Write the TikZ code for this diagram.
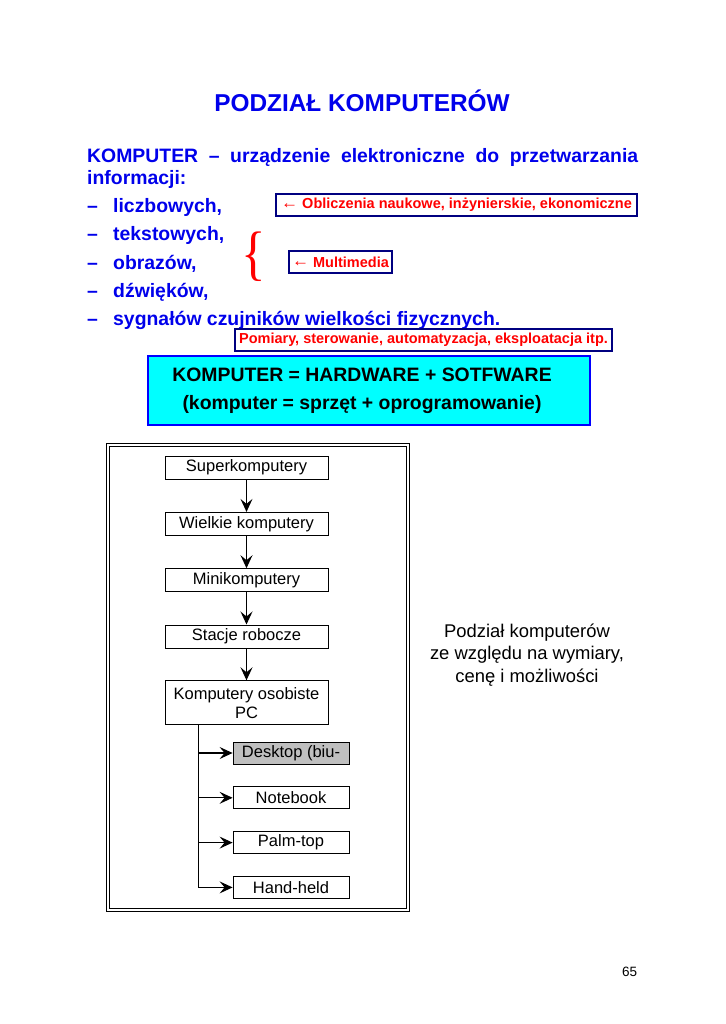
\documentclass[tikz,border=0pt]{standalone}
\usepackage{fontspec}
\setmainfont{Liberation Sans}
\newfontfamily\bracefont{Liberation Serif}
\usepackage{xcolor}
\definecolor{primary}{RGB}{0, 0, 235}
\definecolor{accent}{RGB}{255, 0, 0}
\definecolor{boxline}{RGB}{0, 0, 128}
\definecolor{formula}{RGB}{0, 255, 255}
\usetikzlibrary{arrows.meta,positioning}

\newcommand{\larrow}{{\fontsize{17}{17}\selectfont\raisebox{0.5pt}{←}}}

\begin{document}
\begin{tikzpicture}[x=1pt, y=-1pt,
    item/.style={anchor=base west, inner sep=0pt, primary, font=\bfseries\fontsize{19.4}{23}\selectfont},
    note/.style={draw=boxline, line width=1.3pt, inner sep=0pt, minimum height=22pt, text=accent, font=\bfseries\fontsize{14.5}{17}\selectfont},
    level/.style={draw, thick, inner sep=0pt, minimum width=163pt, minimum height=23pt, font=\fontsize{16.5}{19}\selectfont},
    kind/.style={draw, thick, inner sep=0pt, minimum width=116pt, minimum height=22pt, font=\fontsize{16.5}{19}\selectfont},
    flow/.style={-{Stealth[length=13pt, width=12pt, inset=5pt]}, line width=1.1pt}]
    \useasboundingbox (0, 0) rectangle (725, 1024);

    % Title
    \node[primary, font=\bfseries\fontsize{24.4}{29}\selectfont] (title) at (362, 101) {PODZIAŁ KOMPUTERÓW};

    % Definition
    \node[anchor=north west, inner sep=0pt, text width=551pt, align=justify, primary, font=\bfseries\fontsize{19.4}{22}\selectfont] (def) at (87, 148)
        {KOMPUTER – urządzenie elektroniczne do przetwarzania\linebreak informacji:};

    % Kinds of data
    \foreach \txt [count=\i] in {{liczbowych,}, {tekstowych,}, {obrazów,}, {dźwięków,}, {sygnałów czujników wielkości fizycznych.}} {
        \node[item] (dash\i) at (87, 184.2 + 28.3*\i) {–};
        \node[item] (data\i) at (113, 184.2 + 28.3*\i) {\txt};
    }

    % Applications
    \node[note, minimum width=361pt] (science) at (456.5, 205) {\larrow\ Obliczenia naukowe, inżynierskie, ekonomiczne};
    \node[accent, inner sep=0pt, xscale=0.85, font=\bracefont\fontsize{60}{60}\selectfont] (brace) at (254, 257) {\{};
    \node[note, minimum width=103pt] (media) at (340.5, 262) {\larrow\ Multimedia};
    \node[note, minimum width=377pt] (control) at (423.5, 340) {Pomiary, sterowanie, automatyzacja, eksploatacja itp.};

    % Formula
    \node[draw=blue, line width=1.5pt, fill=formula, minimum width=442pt, minimum height=69pt, inner sep=0pt, align=center, font=\bfseries\fontsize{19.4}{28}\selectfont] (formula) at (369, 390.5)
        {\raisebox{-3pt}{KOMPUTER = HARDWARE + SOTFWARE}\hspace*{14pt}\\\raisebox{-3pt}{(komputer = sprzęt + oprogramowanie)}\hspace*{14pt}};

    % Frame of the chart
    \draw[line width=1.1pt, double=white, double distance=1.8pt] (108, 445) rectangle (408, 910);

    % Size levels
    \node[level] (super) at (246.5, 467.5) {Superkomputery};
    \node[level, below=32.5pt of super] (mainframe) {Wielkie komputery};
    \node[level, below=32.5pt of mainframe] (mini) {Minikomputery};
    \node[level, below=32.5pt of mini] (station) {Stacje robocze};
    \node[level, below=32pt of station, minimum height=44pt, align=center, font=\fontsize{16.5}{19}\selectfont] (pc) {Komputery osobiste\\PC};
    \draw[flow] (super) -- (mainframe);
    \draw[flow] (mainframe) -- (mini);
    \draw[flow] (mini) -- (station);
    \draw[flow] (station) -- (pc);

    % Personal computers
    \node[kind, fill=lightgray] (desktop) at (291, 753) {Desktop (biu-};
    \node[kind, below=22pt of desktop] (notebook) {Notebook};
    \node[kind, below=22pt of notebook] (palmtop) {Palm-top};
    \node[kind, below=22pt of palmtop] (handheld) {Hand-held};
    \coordinate (trunk) at ([xshift=34pt]pc.south west);
    \foreach \n in {desktop, notebook, palmtop, handheld}
        \draw[flow] (trunk) |- (\n);

    % Description
    \node[align=center, font=\fontsize{18.4}{22.5}\selectfont] (caption) at (527, 655) {Podział komputerów\\ze względu na wymiary,\\cenę i możliwości};

    % Page number
    \node[font=\fontsize{13.5}{16}\selectfont] (page) at (629.5, 972) {65};
\end{tikzpicture}
\end{document}
